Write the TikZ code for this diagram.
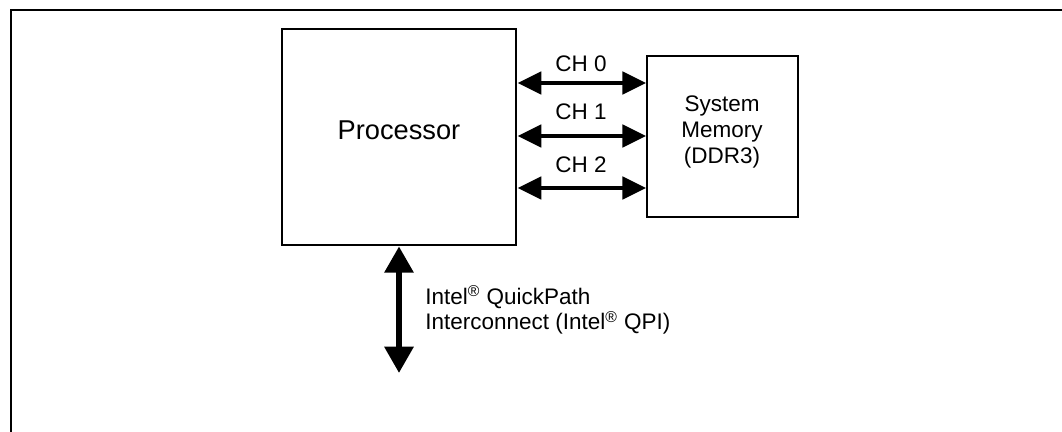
\documentclass[tikz,border=0pt]{standalone}
\usepackage{fontspec}
\setmainfont{Liberation Sans}
\usetikzlibrary{positioning}
\usetikzlibrary{calc}
\usetikzlibrary{arrows.meta}

\begin{document}
\begin{tikzpicture}[x=0.02cm,y=-0.02cm,
  chbus/.style={line width=2.8pt,{Triangle[length=13.6pt,width=12.5pt]}-{Triangle[length=13.6pt,width=12.5pt]}},
  qpibus/.style={line width=3.4pt,{Triangle[length=15pt,width=16pt]}-{Triangle[length=15pt,width=16pt]}},
  lbl/.style={font=\fontsize{12.8}{14.6}\selectfont,inner sep=0pt}]
\useasboundingbox (0,0) rectangle (1062,432);
\draw[line width=1.7pt] (11,450) -- (11,10) -- (1080,10);

\node[draw,line width=1.6pt,minimum width=4.68cm,minimum height=4.32cm,inner sep=0pt](proc) at (399,137){};
\node[font=\fontsize{15.5}{18}\selectfont,inner sep=0pt](proctext) at (399,130){Processor};
\node[draw,line width=0.85pt,minimum width=3.02cm,minimum height=3.22cm,inner sep=0pt](mem) at (722.5,136.5){};
\node[lbl,align=center](memtext) at (722,132){System\\Memory\\(DDR3)};

\node[lbl](ch0) at (581,64){CH 0};
\node[lbl](ch1) at (581,112){CH 1};
\node[lbl](ch2) at (581,165){CH 2};
\coordinate(bus0) at (581,83);
\coordinate(bus1) at (581,136);
\coordinate(bus2) at (581,188);
\coordinate(qpiEnd) at (399,373);
\node[lbl,align=left,anchor=west](qpi) at (425,310){Intel\textsuperscript{\textregistered} QuickPath\\Interconnect (Intel\textsuperscript{\textregistered} QPI)};

\path
(bus0 -| proc.east) edge[chbus] (bus0 -| mem.west)
(bus1 -| proc.east) edge[chbus] (bus1 -| mem.west)
(bus2 -| proc.east) edge[chbus] (bus2 -| mem.west)
(proc.south) edge[qpibus] (qpiEnd);
\end{tikzpicture}
\end{document}
